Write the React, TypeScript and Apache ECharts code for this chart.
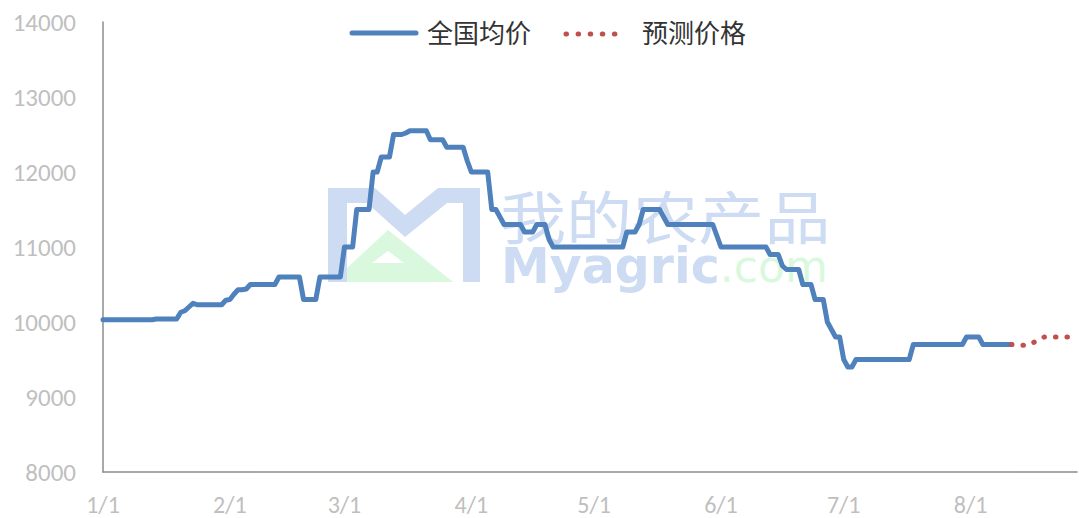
import React, { useEffect, useRef } from "react";
import * as echarts from "echarts";

// Month lengths (non-leap year) used to build daily category labels
const monthLengths = [31, 28, 31, 30, 31, 30, 31, 27];

// 全国均价 — daily values, one row per month
const priceJan = [
  10030, 10030, 10030, 10030, 10030, 10030, 10030, 10030, 10030, 10030, 10030, 10030, 10030,
  10040, 10040, 10040, 10040, 10040, 10040,
  10130, 10150, 10200, 10250,
  10230, 10230, 10230, 10230, 10230, 10230, 10230,
  10290,
];
const priceFeb = [
  10300, 10370, 10430, 10430, 10440,
  10500, 10500, 10500, 10500, 10500, 10500, 10500,
  10600, 10600, 10600, 10600, 10600, 10600,
  10300, 10300, 10300, 10300,
  10600, 10600, 10600, 10600, 10600, 10600,
];
const priceMar = [
  11000, 11000, 11000,
  11500, 11500, 11500, 11500,
  12000, 12000,
  12200, 12200, 12200,
  12500, 12500, 12500,
  12520,
  12550, 12550, 12550, 12550, 12550,
  12430, 12430, 12430, 12430,
  12330, 12330, 12330, 12330, 12330,
  12150,
];
const priceApr = [
  12000, 12000, 12000, 12000, 12000,
  11500, 11500,
  11400,
  11300, 11300, 11300, 11300, 11300,
  11200, 11200, 11200,
  11300, 11300, 11300,
  11100,
  11000, 11000, 11000, 11000, 11000, 11000, 11000, 11000, 11000, 11000,
];
const priceMay = [
  11000, 11000, 11000, 11000, 11000, 11000, 11000, 11000,
  11200, 11200, 11200,
  11300,
  11500, 11500, 11500, 11500, 11500,
  11400,
  11300, 11300, 11300, 11300, 11300, 11300, 11300, 11300, 11300, 11300, 11300, 11300,
  11150,
];
const priceJun = [
  11000, 11000, 11000, 11000, 11000, 11000, 11000, 11000, 11000, 11000, 11000, 11000,
  10900, 10900, 10900,
  10750,
  10700, 10700, 10700, 10700,
  10500, 10500, 10500,
  10300, 10300, 10300,
  10000, 9900, 9800, 9800,
];
const priceJul = [
  9500, 9400, 9400,
  9500, 9500, 9500, 9500, 9500, 9500, 9500, 9500, 9500, 9500, 9500, 9500, 9500, 9500,
  9700, 9700, 9700, 9700, 9700, 9700, 9700, 9700, 9700, 9700, 9700, 9700, 9700,
  9800,
];
const priceAug = [
  9800, 9800, 9800,
  9700, 9700, 9700, 9700, 9700, 9700, 9700, 9700,
];

// 预测价格 — forecast, starting on the last day of the actual series (8/11)
const forecastStartIndex = 222;
const forecastValues = [
  9700, 9700, 9690, 9690, 9690, 9720, 9740, 9770, 9800, 9800, 9800, 9800, 9800, 9800, 9800,
];

const seriesNames = ["全国均价", "预测价格"];
const yTicks = { min: 8000, max: 14000, interval: 1000 };

function buildCategories(): string[] {
  const out: string[] = [];
  monthLengths.forEach((len, m) => {
    for (let d = 1; d <= len; d++) out.push(`${m + 1}/${d}`);
  });
  return out;
}

export default function App() {
  const ref = useRef<HTMLDivElement>(null);

  useEffect(() => {
    if (!ref.current) return;
    const chart = echarts.init(ref.current, undefined, { renderer: "svg" });
    const categories = buildCategories();
    const actual = [
      ...priceJan, ...priceFeb, ...priceMar, ...priceApr,
      ...priceMay, ...priceJun, ...priceJul, ...priceAug,
    ];
    const forecast: (number | null)[] = categories.map(() => null);
    forecastValues.forEach((v, i) => {
      forecast[forecastStartIndex + i] = v;
    });

    const blue = "#4f81bd";
    const red = "#c0504d";
    const axisColor = "#8c8c8c";
    const labelColor = "#bfbfbf";
    const numFont = "Carlito, 'Liberation Sans', 'Open Sans', sans-serif";
    const cjkFont = "'Noto Sans CJK SC', sans-serif";
    const wmBlue = "#cddcf3";
    const wmGreen = "#daf8de";

    chart.setOption({
      animation: false,
      backgroundColor: "#ffffff",
      grid: { left: 103, right: 2, top: 22, bottom: 46, containLabel: false },
      legend: { show: false, data: seriesNames },
      graphic: [
        // watermark logo
        {
          type: "polygon",
          z: 0,
          silent: true,
          shape: {
            points: [
              [328, 188], [375, 188], [405, 215], [438, 188], [480, 188], [480, 282],
              [463, 282], [463, 203], [447, 203], [405, 237], [367, 203], [347, 203],
              [347, 282], [328, 282],
            ],
          },
          style: { fill: wmBlue },
        },
        {
          type: "polygon",
          z: 0,
          silent: true,
          shape: { points: [[347, 268], [388, 230], [453, 282], [347, 282]] },
          style: { fill: wmGreen },
        },
        {
          type: "polygon",
          z: 0,
          silent: true,
          shape: { points: [[372, 263], [388, 251], [404, 263]] },
          style: { fill: "#ffffff" },
        },
        {
          type: "text",
          z: 0,
          silent: true,
          x: 500,
          y: 186,
          scaleX: 1.16,
          style: {
            text: "我的农产品",
            fill: wmBlue,
            font: `57px ${cjkFont}`,
            lineHeight: 56,
          },
        },
        {
          type: "text",
          z: 0,
          silent: true,
          x: 501,
          y: 246,
          style: {
            text: "{a|Myagric}{b|.com}",
            rich: {
              a: { fill: wmBlue, color: wmBlue, fontSize: 49, lineHeight: 40, fontWeight: "bold", fontFamily: "'DejaVu Sans', sans-serif" },
              b: { fill: wmGreen, color: wmGreen, fontSize: 44, lineHeight: 40, fontWeight: "normal", fontFamily: "'DejaVu Sans', sans-serif" },
            },
          },
        },
        // legend
        {
          type: "line",
          z: 10,
          silent: true,
          shape: { x1: 352, y1: 33, x2: 416, y2: 33 },
          style: { stroke: blue, lineWidth: 5, lineCap: "round" },
        },
        {
          type: "text",
          z: 10,
          silent: true,
          x: 427,
          y: 31,
          style: {
            text: seriesNames[0],
            fill: "#333333",
            font: `26px ${cjkFont}`,
            verticalAlign: "middle",
          },
        },
        {
          type: "line",
          z: 10,
          silent: true,
          shape: { x1: 566, y1: 34, x2: 625, y2: 34 },
          style: { stroke: red, lineWidth: 5, lineCap: "round", lineDash: [0.5, 11.6] },
        },
        {
          type: "text",
          z: 10,
          silent: true,
          x: 642,
          y: 31,
          style: {
            text: seriesNames[1],
            fill: "#333333",
            font: `26px ${cjkFont}`,
            verticalAlign: "middle",
          },
        },
      ],
      xAxis: {
        type: "category",
        data: categories,
        boundaryGap: false,
        axisLine: { lineStyle: { color: axisColor, width: 1.5 } },
        axisTick: { show: false },
        splitLine: { show: false },
        axisLabel: {
          interval: (_i: number, v: string) => v.endsWith("/1"),
          color: labelColor,
          fontSize: 24,
          fontFamily: numFont,
          margin: 20,
        },
      },
      yAxis: {
        type: "value",
        min: yTicks.min,
        max: yTicks.max,
        interval: yTicks.interval,
        axisLine: { show: true, lineStyle: { color: axisColor, width: 1.5 } },
        axisTick: { show: false },
        splitLine: { show: false },
        axisLabel: {
          color: labelColor,
          fontSize: 25,
          fontFamily: numFont,
          margin: 27,
          formatter: (v: number) => String(v),
        },
      },
      series: [
        {
          name: seriesNames[0],
          type: "line",
          data: actual,
          symbol: "none",
          z: 5,
          itemStyle: { color: blue },
          lineStyle: { color: blue, width: 5, cap: "round", join: "round" },
        },
        {
          name: seriesNames[1],
          type: "line",
          data: forecast,
          symbol: "none",
          z: 5,
          itemStyle: { color: red },
          lineStyle: { color: red, width: 5, type: [0.5, 11], cap: "round", join: "round" },
        },
      ],
    });
    return () => chart.dispose();
  }, []);

  return (
    <div
      ref={ref}
      style={{ position: "absolute", left: 0, top: 0, width: 1079, height: 518 }}
    />
  );
}
